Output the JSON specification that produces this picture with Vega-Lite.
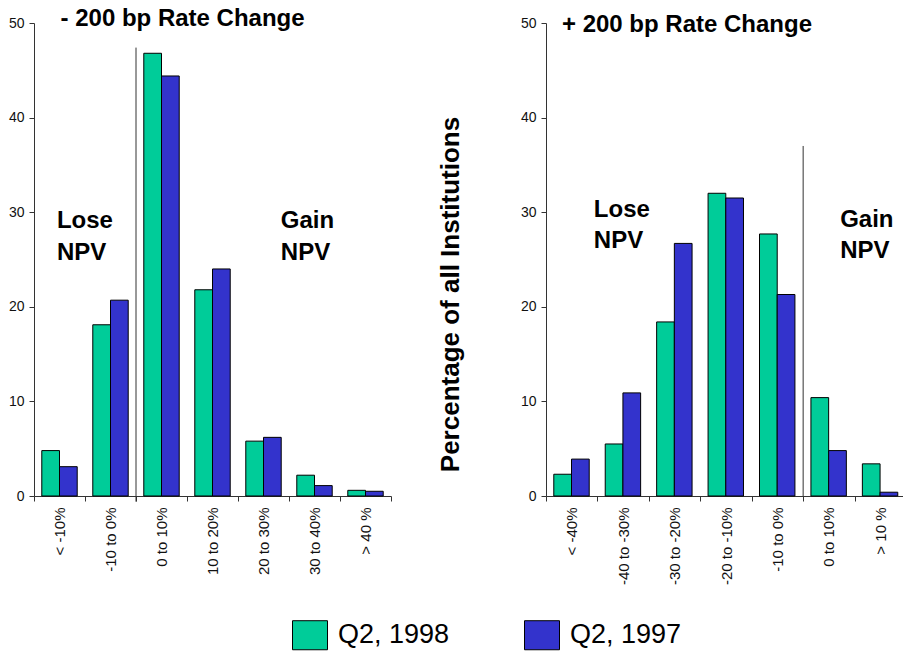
{
  "$schema": "https://vega.github.io/schema/vega-lite/v6.json",
  "padding": {"left": 8, "top": 6, "right": 0, "bottom": 0},
  "background": "white",
  "config": {
    "view": {"stroke": null},
    "font": "Liberation Sans",
    "axis": {"domainColor": "#333333", "tickColor": "#333333", "labelColor": "#111111", "grid": false, "labelFont": "Liberation Sans", "domainWidth": 1, "tickWidth": 1, "tickSize": 5}
  },
  "datasets": {
    "minus": [
      {"range": "< -10%", "period": "Q2, 1998", "value": 4.8},
      {"range": "< -10%", "period": "Q2, 1997", "value": 3.1},
      {"range": "-10 to 0%", "period": "Q2, 1998", "value": 18.1},
      {"range": "-10 to 0%", "period": "Q2, 1997", "value": 20.7},
      {"range": "0 to 10%", "period": "Q2, 1998", "value": 46.8},
      {"range": "0 to 10%", "period": "Q2, 1997", "value": 44.4},
      {"range": "10 to 20%", "period": "Q2, 1998", "value": 21.8},
      {"range": "10 to 20%", "period": "Q2, 1997", "value": 24.0},
      {"range": "20 to 30%", "period": "Q2, 1998", "value": 5.8},
      {"range": "20 to 30%", "period": "Q2, 1997", "value": 6.2},
      {"range": "30 to 40%", "period": "Q2, 1998", "value": 2.2},
      {"range": "30 to 40%", "period": "Q2, 1997", "value": 1.1},
      {"range": "> 40 %", "period": "Q2, 1998", "value": 0.6},
      {"range": "> 40 %", "period": "Q2, 1997", "value": 0.5}
    ],
    "plus": [
      {"range": "< -40%", "period": "Q2, 1998", "value": 2.3},
      {"range": "< -40%", "period": "Q2, 1997", "value": 3.9},
      {"range": "-40 to -30%", "period": "Q2, 1998", "value": 5.5},
      {"range": "-40 to -30%", "period": "Q2, 1997", "value": 10.9},
      {"range": "-30 to -20%", "period": "Q2, 1998", "value": 18.4},
      {"range": "-30 to -20%", "period": "Q2, 1997", "value": 26.7},
      {"range": "-20 to -10%", "period": "Q2, 1998", "value": 32.0},
      {"range": "-20 to -10%", "period": "Q2, 1997", "value": 31.5},
      {"range": "-10 to 0%", "period": "Q2, 1998", "value": 27.7},
      {"range": "-10 to 0%", "period": "Q2, 1997", "value": 21.3},
      {"range": "0 to 10%", "period": "Q2, 1998", "value": 10.4},
      {"range": "0 to 10%", "period": "Q2, 1997", "value": 4.8},
      {"range": "> 10 %", "period": "Q2, 1998", "value": 3.4},
      {"range": "> 10 %", "period": "Q2, 1997", "value": 0.4}
    ]
  },
  "spacing": 44,
  "hconcat": [
    {
      "width": 357,
      "height": 473,
      "layer": [
        {
          "data": {"name": "minus"},
          "mark": {"type": "bar", "stroke": "black", "strokeWidth": 1},
          "encoding": {
            "x": {"field": "range", "type": "nominal", "scale": {"domain": ["< -10%", "-10 to 0%", "0 to 10%", "10 to 20%", "20 to 30%", "30 to 40%", "> 40 %"], "paddingInner": 0, "paddingOuter": 0}, "axis": {"title": null, "labelAngle": -90, "labelFontSize": 15, "tickBand": "extent", "labelPadding": 6}},
            "xOffset": {"field": "period", "type": "nominal", "scale": {"domain": ["Q2, 1998", "Q2, 1997"], "paddingInner": 0, "paddingOuter": 0.44}},
            "y": {"field": "value", "type": "quantitative", "scale": {"domain": [0, 50], "nice": false}, "axis": {"title": null, "values": [0, 10, 20, 30, 40, 50], "labelFontSize": 14, "labelPadding": 5}},
            "color": {"field": "period", "type": "nominal", "scale": {"domain": ["Q2, 1998", "Q2, 1997"], "range": ["#00CC99", "#3333CC"]},
              "legend": {"title": null, "orient": "none", "legendX": 258, "legendY": 594, "direction": "horizontal", "symbolType": "M-1,-0.83H1V0.83H-1Z", "symbolSize": 1225, "symbolStrokeColor": "black", "symbolStrokeWidth": 1, "symbolOpacity": 1, "labelFontSize": 27, "labelColor": "black", "labelOffset": 10, "columnPadding": 72, "labelFont": "Liberation Sans"}}
          }
        },
        {
          "data": {"values": [{"range": "0 to 10%", "top": 47.4, "bottom": -0.6}]},
          "mark": {"type": "rule", "color": "#333333", "strokeWidth": 1},
          "encoding": {
            "x": {"field": "range", "type": "nominal", "bandPosition": 0, "scale": {"domain": ["< -10%", "-10 to 0%", "0 to 10%", "10 to 20%", "20 to 30%", "30 to 40%", "> 40 %"]}},
            "y": {"field": "top", "type": "quantitative", "axis": {"title": null}},
            "y2": {"field": "bottom"}
          }
        },
        {
          "data": {"values": [{"label": "- 200 bp Rate Change", "range": "< -10%", "value": 49.7}]},
          "mark": {"type": "text", "align": "left", "baseline": "alphabetic", "fontSize": 24, "fontWeight": "bold", "font": "Liberation Sans", "color": "black"},
          "encoding": {
            "x": {"field": "range", "type": "nominal", "bandPosition": 0.52, "scale": {"domain": ["< -10%", "-10 to 0%", "0 to 10%", "10 to 20%", "20 to 30%", "30 to 40%", "> 40 %"]}},
            "y": {"field": "value", "type": "quantitative", "axis": {"title": null}},
            "text": {"field": "label"}
          }
        },
        {
          "data": {"values": [{"label": "Lose\nNPV", "range": "< -10%", "value": 28.3}]},
          "mark": {"type": "text", "align": "left", "baseline": "alphabetic", "fontSize": 24, "fontWeight": "bold", "font": "Liberation Sans", "color": "black", "lineBreak": "\n", "lineHeight": 31.5},
          "encoding": {
            "x": {"field": "range", "type": "nominal", "bandPosition": 0.45, "scale": {"domain": ["< -10%", "-10 to 0%", "0 to 10%", "10 to 20%", "20 to 30%", "30 to 40%", "> 40 %"]}},
            "y": {"field": "value", "type": "quantitative", "axis": {"title": null}},
            "text": {"field": "label"}
          }
        },
        {
          "data": {"values": [{"label": "Gain\nNPV", "range": "20 to 30%", "value": 28.3}]},
          "mark": {"type": "text", "align": "left", "baseline": "alphabetic", "fontSize": 24, "fontWeight": "bold", "font": "Liberation Sans", "color": "black", "lineBreak": "\n", "lineHeight": 31.5},
          "encoding": {
            "x": {"field": "range", "type": "nominal", "bandPosition": 0.84, "scale": {"domain": ["< -10%", "-10 to 0%", "0 to 10%", "10 to 20%", "20 to 30%", "30 to 40%", "> 40 %"]}},
            "y": {"field": "value", "type": "quantitative", "axis": {"title": null}},
            "text": {"field": "label"}
          }
        }
      ]
    },
    {
      "width": 360,
      "height": 473,
      "layer": [
        {
          "data": {"name": "plus"},
          "mark": {"type": "bar", "stroke": "black", "strokeWidth": 1},
          "encoding": {
            "x": {"field": "range", "type": "nominal", "scale": {"domain": ["< -40%", "-40 to -30%", "-30 to -20%", "-20 to -10%", "-10 to 0%", "0 to 10%", "> 10 %"], "paddingInner": 0, "paddingOuter": 0}, "axis": {"title": null, "labelAngle": -90, "labelFontSize": 15, "tickBand": "extent", "labelPadding": 6}},
            "xOffset": {"field": "period", "type": "nominal", "scale": {"domain": ["Q2, 1998", "Q2, 1997"], "paddingInner": 0, "paddingOuter": 0.44}},
            "y": {"field": "value", "type": "quantitative", "scale": {"domain": [0, 50], "nice": false}, "axis": {"title": "Percentage of all Institutions", "values": [0, 10, 20, 30, 40, 50], "labelFontSize": 14, "labelPadding": 5, "titleFontSize": 26, "titleFontWeight": "bold", "titleColor": "black", "titleFont": "Liberation Sans", "titleX": -88, "titleY": 271, "titleBaseline": "alphabetic", "titleAngle": 270, "titleAlign": "center"}},
            "color": {"field": "period", "type": "nominal", "scale": {"domain": ["Q2, 1998", "Q2, 1997"], "range": ["#00CC99", "#3333CC"]}}
          }
        },
        {
          "data": {"values": [{"range": "0 to 10%", "top": 37.0, "bottom": 0}]},
          "mark": {"type": "rule", "color": "#333333", "strokeWidth": 1},
          "encoding": {
            "x": {"field": "range", "type": "nominal", "bandPosition": 0, "scale": {"domain": ["< -40%", "-40 to -30%", "-30 to -20%", "-20 to -10%", "-10 to 0%", "0 to 10%", "> 10 %"]}},
            "y": {"field": "top", "type": "quantitative"},
            "y2": {"field": "bottom"}
          }
        },
        {
          "data": {"values": [{"label": "+ 200 bp Rate Change", "range": "< -40%", "value": 49.05}]},
          "mark": {"type": "text", "align": "left", "baseline": "alphabetic", "fontSize": 24, "fontWeight": "bold", "font": "Liberation Sans", "color": "black"},
          "encoding": {
            "x": {"field": "range", "type": "nominal", "bandPosition": 0.31, "scale": {"domain": ["< -40%", "-40 to -30%", "-30 to -20%", "-20 to -10%", "-10 to 0%", "0 to 10%", "> 10 %"]}},
            "y": {"field": "value", "type": "quantitative"},
            "text": {"field": "label"}
          }
        },
        {
          "data": {"values": [{"label": "Lose\nNPV", "range": "< -40%", "value": 29.5}]},
          "mark": {"type": "text", "align": "left", "baseline": "alphabetic", "fontSize": 24, "fontWeight": "bold", "font": "Liberation Sans", "color": "black", "lineBreak": "\n", "lineHeight": 31.5},
          "encoding": {
            "x": {"field": "range", "type": "nominal", "bandPosition": 0.93, "scale": {"domain": ["< -40%", "-40 to -30%", "-30 to -20%", "-20 to -10%", "-10 to 0%", "0 to 10%", "> 10 %"]}},
            "y": {"field": "value", "type": "quantitative"},
            "text": {"field": "label"}
          }
        },
        {
          "data": {"values": [{"label": "Gain\nNPV", "range": "0 to 10%", "value": 28.45}]},
          "mark": {"type": "text", "align": "left", "baseline": "alphabetic", "fontSize": 24, "fontWeight": "bold", "font": "Liberation Sans", "color": "black", "lineBreak": "\n", "lineHeight": 31.5},
          "encoding": {
            "x": {"field": "range", "type": "nominal", "bandPosition": 0.72, "scale": {"domain": ["< -40%", "-40 to -30%", "-30 to -20%", "-20 to -10%", "-10 to 0%", "0 to 10%", "> 10 %"]}},
            "y": {"field": "value", "type": "quantitative"},
            "text": {"field": "label"}
          }
        }
      ]
    }
  ]
}
